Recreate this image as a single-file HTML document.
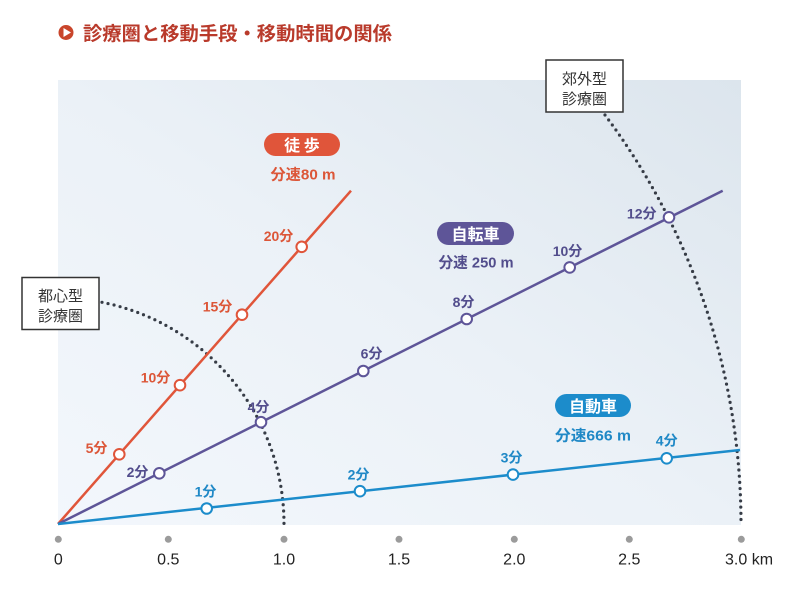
<!DOCTYPE html>
<html><head><meta charset="utf-8"><style>
html,body{margin:0;padding:0;background:#fff;}
svg{display:block;}
text{font-family:"Liberation Sans","Noto Sans CJK JP",sans-serif;}
</style></head><body>
<svg width="800" height="600" viewBox="0 0 800 600" xmlns="http://www.w3.org/2000/svg">
<defs>
<linearGradient id="bg" x1="0" y1="1" x2="1" y2="0">
<stop offset="0" stop-color="#f3f7fc"/>
<stop offset="0.5" stop-color="#ebf1f7"/>
<stop offset="1" stop-color="#dce5ed"/>
</linearGradient>
</defs>
<rect x="0" y="0" width="800" height="600" fill="#fff"/>
<!-- title -->
<circle cx="66" cy="32.5" r="7.5" fill="#c9452b"/>
<polygon points="63.5,28 63.5,37 71,32.5" fill="#fff"/>
<text x="83" y="40" font-size="19" font-weight="bold" fill="#b93a2b" textLength="309" lengthAdjust="spacingAndGlyphs" style="font-family:'Noto Sans CJK JP',sans-serif">診療圏と移動手段・移動時間の関係</text>
<!-- panel -->
<rect x="58" y="80" width="683" height="445" fill="url(#bg)"/>
<!-- dotted circles -->
<path d="M102,302.3 A226,226 0 0 1 284,524" fill="none" stroke="#363c46" stroke-width="3.2" stroke-linecap="round" stroke-dasharray="0 6.2"/>
<path d="M605,115 A683,683 0 0 1 741,524" fill="none" stroke="#363c46" stroke-width="3.2" stroke-linecap="round" stroke-dasharray="0 6.2"/>
<!-- boxes -->
<rect x="22" y="277.5" width="77" height="52" fill="#fff" stroke="#333" stroke-width="1.5"/>
<text x="60.5" y="301" font-size="15" fill="#333" text-anchor="middle" style="font-family:'Noto Sans CJK JP',sans-serif">都心型</text>
<text x="60.5" y="321" font-size="15" fill="#333" text-anchor="middle" style="font-family:'Noto Sans CJK JP',sans-serif">診療圏</text>
<rect x="546" y="60" width="77" height="52" fill="#fff" stroke="#333" stroke-width="1.5"/>
<text x="584.5" y="84" font-size="15" fill="#333" text-anchor="middle" style="font-family:'Noto Sans CJK JP',sans-serif">郊外型</text>
<text x="584.5" y="104" font-size="15" fill="#333" text-anchor="middle" style="font-family:'Noto Sans CJK JP',sans-serif">診療圏</text>
<!-- lines -->
<line x1="58" y1="524" x2="351" y2="190.7" stroke="#e0553a" stroke-width="2.5"/>
<line x1="58" y1="524" x2="722.7" y2="190.7" stroke="#5e5598" stroke-width="2.5"/>
<line x1="58" y1="524" x2="740" y2="450" stroke="#1c8ccb" stroke-width="2.5"/>
<!-- markers -->
<g fill="#fff" stroke="#e0553a" stroke-width="2">
<circle cx="119.3" cy="454.3" r="5.3"/>
<circle cx="180" cy="385.2" r="5.3"/>
<circle cx="242" cy="314.7" r="5.3"/>
<circle cx="301.7" cy="246.8" r="5.3"/>
</g>
<g fill="#fff" stroke="#5e5598" stroke-width="2">
<circle cx="159.3" cy="473.3" r="5.3"/>
<circle cx="261" cy="422.2" r="5.3"/>
<circle cx="363.3" cy="371" r="5.3"/>
<circle cx="466.7" cy="319" r="5.3"/>
<circle cx="569.7" cy="267.4" r="5.3"/>
<circle cx="669" cy="217.3" r="5.3"/>
</g>
<g fill="#fff" stroke="#1c8ccb" stroke-width="2">
<circle cx="206.7" cy="508.5" r="5.3"/>
<circle cx="360" cy="491.2" r="5.3"/>
<circle cx="513" cy="474.6" r="5.3"/>
<circle cx="666.7" cy="458.3" r="5.3"/>
</g>
<!-- labels -->
<g font-size="14" font-weight="bold" fill="#dc5638" text-anchor="middle">
<text x="96.5" y="453">5分</text>
<text x="155.5" y="382.5">10分</text>
<text x="217.5" y="311.5">15分</text>
<text x="278.5" y="241">20分</text>
</g>
<g font-size="14" font-weight="bold" fill="#524d8c" text-anchor="middle">
<text x="137.5" y="477">2分</text>
<text x="258.5" y="412">4分</text>
<text x="371.5" y="358.5">6分</text>
<text x="463.5" y="307">8分</text>
<text x="567.5" y="256">10分</text>
<text x="641.7" y="218.5">12分</text>
</g>
<g font-size="14" font-weight="bold" fill="#1f88c6" text-anchor="middle">
<text x="205.5" y="496.5">1分</text>
<text x="358.5" y="479.5">2分</text>
<text x="511.5" y="462.5">3分</text>
<text x="666.7" y="445.5">4分</text>
</g>
<!-- pills -->
<rect x="264" y="133" width="76" height="23" rx="11.5" fill="#e0553a"/>
<text x="302" y="151" font-size="16" font-weight="bold" fill="#fff" text-anchor="middle" style="font-family:'Noto Sans CJK JP',sans-serif">徒 歩</text>
<text x="303" y="179.5" font-size="15" font-weight="bold" fill="#dc5638" text-anchor="middle" textLength="65" lengthAdjust="spacingAndGlyphs">分速80 m</text>
<rect x="437" y="222" width="77" height="23" rx="11.5" fill="#5e5598"/>
<text x="475.5" y="240" font-size="16" font-weight="bold" fill="#fff" text-anchor="middle" style="font-family:'Noto Sans CJK JP',sans-serif">自転車</text>
<text x="476" y="267.5" font-size="15" font-weight="bold" fill="#524d8c" text-anchor="middle" textLength="75" lengthAdjust="spacingAndGlyphs">分速 250 m</text>
<rect x="555" y="394" width="76" height="23" rx="11.5" fill="#1c8ccb"/>
<text x="593" y="412" font-size="16" font-weight="bold" fill="#fff" text-anchor="middle" style="font-family:'Noto Sans CJK JP',sans-serif">自動車</text>
<text x="593" y="440.5" font-size="15" font-weight="bold" fill="#1f88c6" text-anchor="middle" textLength="76" lengthAdjust="spacingAndGlyphs">分速666 m</text>
<!-- axis -->
<g fill="#9b9b9b">
<circle cx="58.3" cy="539.3" r="3.5"/>
<circle cx="168.3" cy="539.3" r="3.5"/>
<circle cx="284" cy="539.3" r="3.5"/>
<circle cx="399" cy="539.3" r="3.5"/>
<circle cx="514.3" cy="539.3" r="3.5"/>
<circle cx="629.3" cy="539.3" r="3.5"/>
<circle cx="741.3" cy="539.3" r="3.5"/>
</g>
<g font-size="16" fill="#222" text-anchor="middle">
<text x="58.3" y="564.5">0</text>
<text x="168.3" y="564.5">0.5</text>
<text x="284" y="564.5">1.0</text>
<text x="399" y="564.5">1.5</text>
<text x="514.3" y="564.5">2.0</text>
<text x="629.3" y="564.5">2.5</text>
</g>
<text x="725" y="564.5" font-size="16" fill="#222">3.0 km</text>
</svg>
</body></html>
